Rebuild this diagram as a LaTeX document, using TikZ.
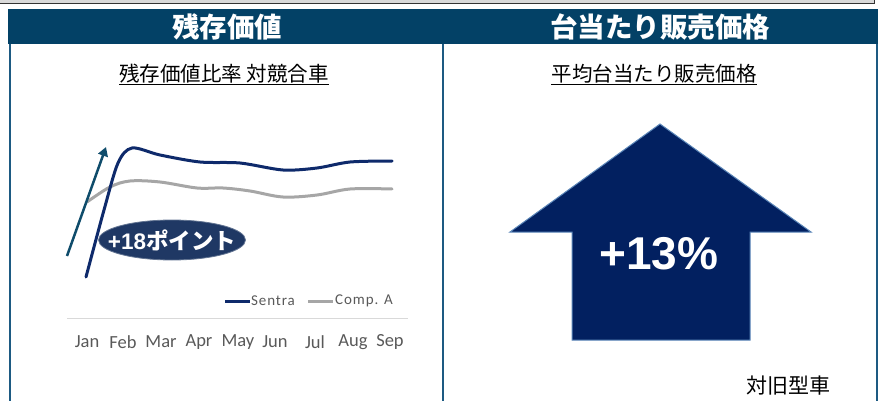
\documentclass[tikz,border=0pt]{standalone}
\usepackage{fontspec}
\setmainfont{Liberation Sans}
\newfontfamily\jpfont{Noto Sans CJK JP}
\newfontfamily\calfont{Carlito}
\newfontfamily\legfont{Carlito}[LetterSpace=6]
\usetikzlibrary{shapes.geometric,arrows.meta}
\definecolor{hdr}{HTML}{034166}
\definecolor{frame}{HTML}{1D5A82}
\definecolor{sentra}{HTML}{0E2A6B}
\definecolor{compa}{HTML}{A6A6A6}
\definecolor{teal}{HTML}{0F4C6B}
\definecolor{ellfill}{HTML}{1F3864}
\definecolor{bigarrow}{HTML}{022060}
\definecolor{bigedge}{HTML}{5B86B8}
\definecolor{txtgray}{HTML}{595959}
\tikzset{
  hdrtext/.style={text=white,font=\jpfont\bfseries\fontsize{27.5}{30}\selectfont,inner sep=0pt},
  subtext/.style={font=\jpfont\fontsize{20.5}{24}\selectfont,inner sep=0pt},
  month/.style={text=txtgray,font=\calfont\fontsize{18.5}{20}\selectfont,inner sep=0pt},
  legtext/.style={text=txtgray,font=\legfont\fontsize{15}{18}\selectfont,inner sep=0pt,anchor=west},
  panelline/.style={draw=frame,line width=2pt},
}
\begin{document}
\begin{tikzpicture}[x=1pt,y=-1pt]
\useasboundingbox (0,0) rectangle (878,401);
% top bar
\fill[gray!30] (-1,-1) rectangle (874.5,3.5);
\draw[gray!40!black,line width=1pt] (-1,3.5) -- (874.5,3.5) -- (874.5,-1);
% header band
\fill[hdr] (8,9.5) rectangle (879,44);
% panel frames
\draw[panelline] (9.5,44) -- (9.5,402);
\draw[panelline] (443,44) -- (443,402);
\draw[panelline] (876.5,44) -- (876.5,402);
% headers
\node[hdrtext] (h1) at (227,26.5) {残存価値};
\node[hdrtext] (h2) at (660,26.5) {台当たり販売価格};
% subtitles
\node[subtext] (s1) at (224,73.5) {残存価値比率 対競合車};
\node[subtext] (s2) at (654,73.5) {平均台当たり販売価格};
\draw[line width=1.4pt] ([yshift=-1.5pt]s1.south west) -- ([yshift=-1.5pt]s1.south east);
\draw[line width=1.4pt] ([yshift=-1.5pt]s2.south west) -- ([yshift=-1.5pt]s2.south east);
% chart lines
\draw[compa,line width=3pt,line cap=round] plot[smooth,tension=0.55] coordinates {(87,202) (110,187) (130,181) (160,182) (197,188) (223,188) (250,191) (283,197) (317,195) (350,189) (392,189)};
\draw[sentra,line width=3pt,line cap=round] plot[smooth,tension=0.5] coordinates {(86,277) (104,210) (118,163) (132,148) (160,155) (200,162) (240,163) (283,170) (317,168) (350,162) (392,161)};
% growth arrow
\coordinate (ga) at (67,256);
\coordinate (gb) at (106,147);
\draw[teal,line width=2.5pt,-{Triangle[length=9pt,width=10pt]}] (ga) -- (gb);
% +18 ellipse
\node[ellipse,fill=ellfill,draw=ellfill!70!white,line width=0.8pt,minimum width=147pt,minimum height=40pt,inner sep=0pt] (pt) at (172,240) {};
\node[text=white,font=\bfseries\fontsize{22.5}{24}\selectfont,inner sep=0pt] (ptt) at (pt.center) {+18{\jpfont\bfseries ポイント}};
% legend
\coordinate (l1a) at (225,301);
\coordinate (l1b) at (250,301);
\coordinate (l2a) at (308,301);
\coordinate (l2b) at (333,301);
\draw[sentra,line width=3pt] (l1a) -- (l1b);
\draw[compa,line width=3pt] (l2a) -- (l2b);
\node[legtext] (lg1) at (251,301) {Sentra};
\node[legtext] (lg2) at (335,301) {Comp. A};
% axis
\draw[gray!30,line width=1pt] (67,318) -- (408,318);
% months
\node[month] (m1) at (87,342) {Jan};
\node[month] (m2) at (123,342) {Feb};
\node[month] (m3) at (161,342) {Mar};
\node[month] (m4) at (199,342) {Apr};
\node[month] (m5) at (238,342) {May};
\node[month] (m6) at (275,342) {Jun};
\node[month] (m7) at (315,342) {Jul};
\node[month] (m8) at (353,342) {Aug};
\node[month] (m9) at (390,342) {Sep};
% big arrow
\filldraw[fill=bigarrow,draw=bigedge,line width=1pt] (660,124) -- (811,232) -- (750,232) -- (750,340) -- (572,340) -- (572,232) -- (510,232) -- cycle;
\node[text=white,font=\bfseries\fontsize{46}{50}\selectfont,inner sep=0pt] (pc) at (659,254) {+13\%};
\node[font=\jpfont\fontsize{21}{24}\selectfont,inner sep=0pt] (old) at (788,386) {対旧型車};
\end{tikzpicture}
\end{document}
